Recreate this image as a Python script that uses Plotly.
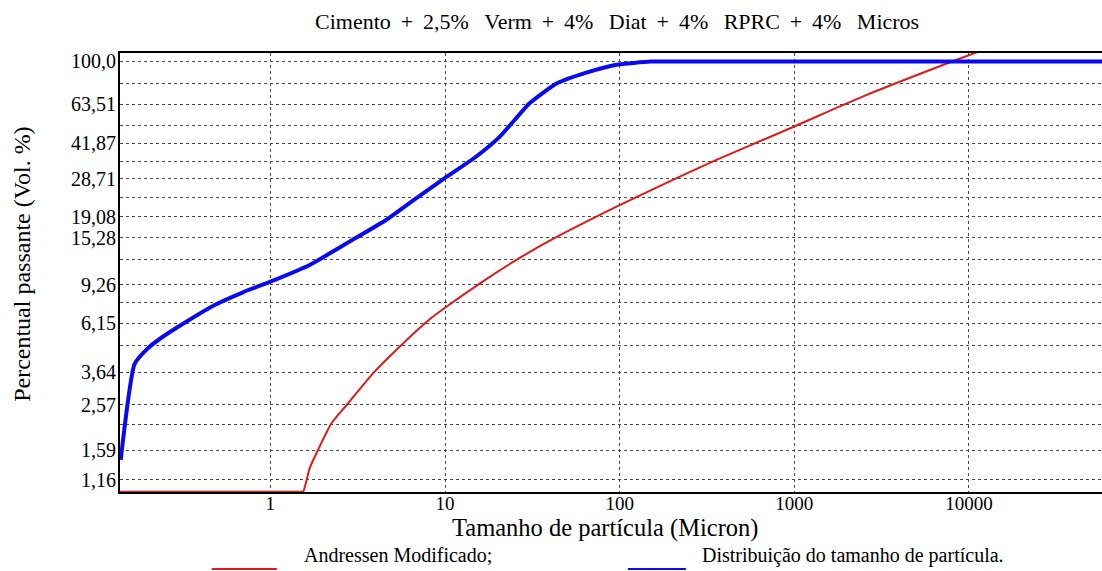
import plotly.graph_objects as go

# Particle size (micron) and cumulative passing (vol. %) for the measured distribution
dist_size = [0.139, 0.167, 0.196, 0.2375, 0.330, 0.480, 0.697, 1.0, 1.68, 2.18, 2.84,
             4.62, 6.86, 9.96, 15.1, 20.6, 25.1, 30.5, 43.5, 64.5, 96.0, 150.0, 177.0, 60000.0]
dist_pass = [1.43, 3.98, 4.65, 5.26, 6.24, 7.46, 8.54, 9.56, 11.43, 12.9, 14.65,
             18.5, 23.3, 28.8, 36.3, 44.9, 53.7, 64.0, 79.0, 88.7, 96.5, 99.8, 100.0, 100.0]

# Modified Andreassen reference curve (floor value sits on the lower axis limit)
andr_size = [0.1376, 1.50, 1.54, 1.68, 1.873, 2.235, 2.78, 3.87, 5.75, 8.17, 9.9, 16.5,
             25.6, 39.8, 100.0, 221.0, 358.0, 1000.0, 2477.0, 7600.0, 12000.0]
andr_pass = [1.02, 1.02, 1.02, 1.31, 1.59, 2.11, 2.61, 3.6, 4.95, 6.4, 7.2, 9.6,
             12.05, 14.8, 21.6, 29.3, 35.0, 50.0, 68.9, 98.3, 113.0]

# Axis ticks
x_ticks = [1, 10, 100, 1000, 10000]
x_labels = ["1", "10", "100", "1000", "10000"]
y_ticks = [1.16, 1.59, 2.09, 2.57, 3.64, 4.86, 6.15, 7.64, 9.26, 12.05, 15.28, 19.08,
           23.5, 28.71, 34.4, 41.87, 50.4, 63.51, 79.4, 100.0]
y_labels = ["1,16", "1,59", "", "2,57", "3,64", "", "6,15", "", "9,26", "", "15,28", "19,08",
            "", "28,71", "", "41,87", "", "63,51", "", "100,0"]

SERIF = "Liberation Serif"
RED = "#e01a1a"
BLUE = "#0a0af0"
PLUS = "\u00a0\u2009+\u00a0\u2009"
WIDE = "\u00a0\u00a0\u2009"

fig = go.Figure()
fig.add_trace(go.Scatter(x=andr_size, y=andr_pass, mode="lines",
                         line=dict(color=RED, width=2, shape="spline", smoothing=0.6),
                         name="Andressen Modificado;", showlegend=False))
fig.add_trace(go.Scatter(x=dist_size, y=dist_pass, mode="lines",
                         line=dict(color=BLUE, width=4, shape="spline", smoothing=0.5),
                         name="Distribuição do tamanho de partícula.", showlegend=False))

fig.update_layout(
    width=1102, height=571,
    margin=dict(l=120, r=0, t=53, b=79),
    paper_bgcolor="white", plot_bgcolor="white",
    font=dict(family=SERIF, color="black", size=20),
    xaxis=dict(
        type="log", range=[-0.861, 4.762],
        tickmode="array", tickvals=x_ticks, ticktext=x_labels,
        showgrid=True, gridcolor="#4a4a4a", griddash="dot", gridwidth=1,
        showline=True, linecolor="black", linewidth=2, mirror=True,
        ticks="", zeroline=False, layer="below traces", ticklabelstandoff=-7,
        tickfont=dict(family=SERIF, size=19),
    ),
    yaxis=dict(
        type="log", range=[0.007, 2.039],
        tickmode="array", tickvals=y_ticks, ticktext=y_labels,
        showgrid=True, gridcolor="#4a4a4a", griddash="dot", gridwidth=1,
        showline=True, linecolor="black", linewidth=2,
        ticks="", zeroline=False, layer="below traces", ticklabelstandoff=-2,
        tickfont=dict(family=SERIF, size=20),
    ),
)

title_text = ("Cimento" + PLUS + "2,5%" + WIDE + "Verm" + PLUS + "4%" + WIDE + "Diat"
              + PLUS + "4%" + WIDE + "RPRC" + PLUS + "4%" + WIDE + "Micros")
annotations = [
    dict(text=title_text, x=0.5059, y=1.0714, size=22),
    dict(text="Percentual passante (Vol. %)", x=-0.1001, y=0.519, size=24, angle=-90),
    dict(text="Tamanho de partícula (Micron)", x=0.4937, y=-0.0830, size=24.5),
    dict(text="Andressen Modificado;", x=0.2827, y=-0.1440, size=20),
    dict(text="Distribuição do tamanho de partícula.", x=0.7464, y=-0.1440, size=20),
]
for a in annotations:
    fig.add_annotation(text=a["text"], x=a["x"], y=a["y"], xref="paper", yref="paper",
                       xanchor="center", yanchor="middle", showarrow=False,
                       textangle=a.get("angle", 0),
                       font=dict(family=SERIF, size=a["size"], color="black"))

# Legend line samples
fig.add_shape(type="line", xref="paper", yref="paper", x0=0.0934, x1=0.1597,
              y0=-0.1752, y1=-0.1752, line=dict(color=RED, width=2))
fig.add_shape(type="line", xref="paper", yref="paper", x0=0.5172, x1=0.5763,
              y0=-0.1752, y1=-0.1752, line=dict(color=BLUE, width=2))

fig.write_html("out.html")
